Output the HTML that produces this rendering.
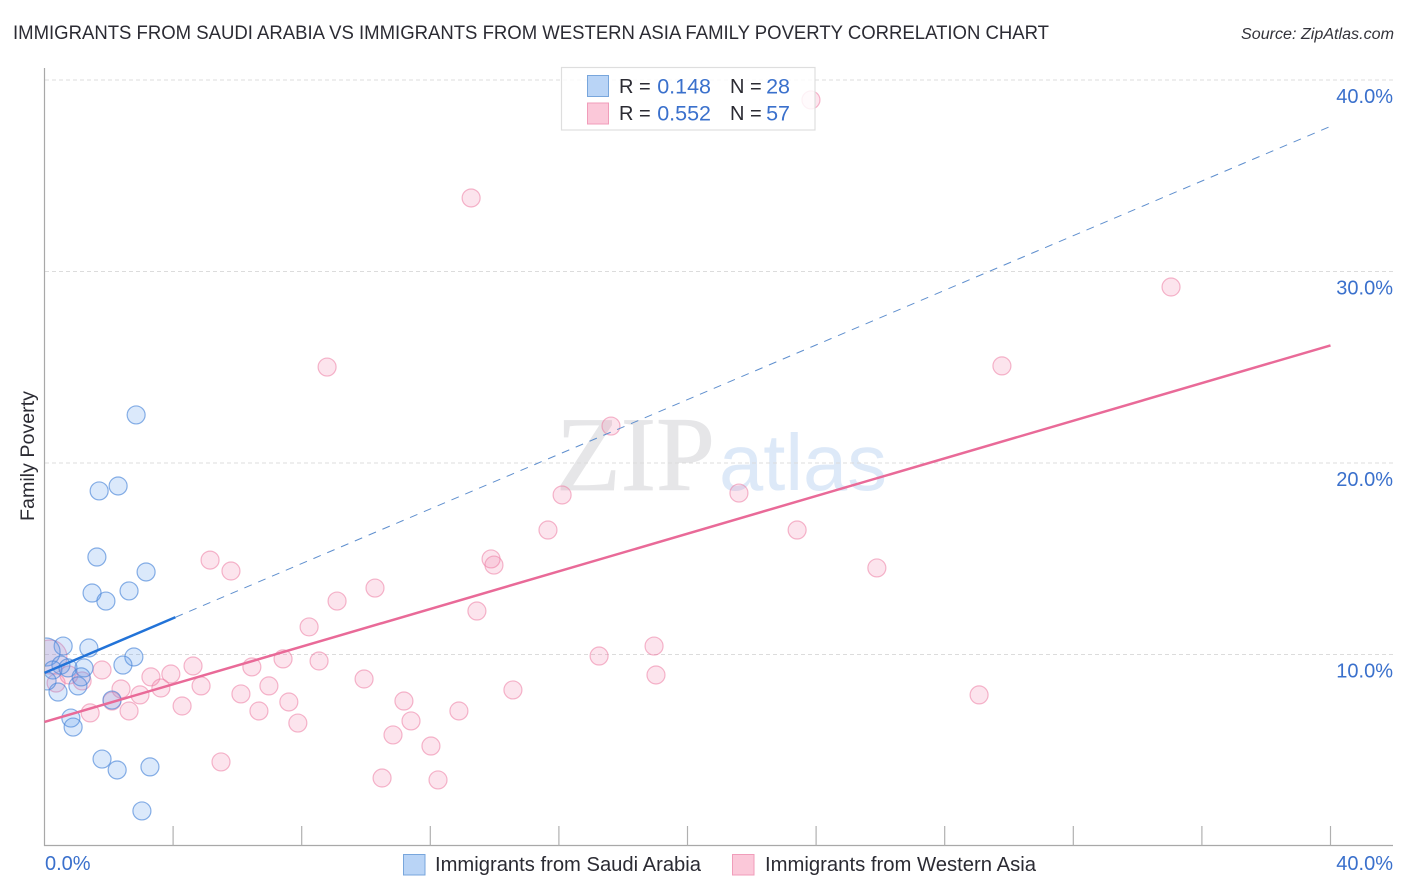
<!DOCTYPE html>
<html lang="en">
<head>
<meta charset="utf-8">
<title>Immigrants from Saudi Arabia vs Immigrants from Western Asia Family Poverty Correlation Chart</title>
<style>
html,body{margin:0;padding:0;background:#fff;width:1406px;height:892px;overflow:hidden}
svg{display:block}
text{font-family:"Liberation Sans",sans-serif}
</style>
</head>
<body>
<svg id="chart" xmlns="http://www.w3.org/2000/svg" width="1406" height="892" viewBox="0 0 1406 892">
<defs><clipPath id="plot-clip"><rect x="45" y="68" width="1348" height="777"/></clipPath></defs>
<text x="13" y="39" font-size="19.5" fill="#2b2b33" textLength="1036" lengthAdjust="spacingAndGlyphs">IMMIGRANTS FROM SAUDI ARABIA VS IMMIGRANTS FROM WESTERN ASIA FAMILY POVERTY CORRELATION CHART</text>
<text x="1241" y="39" font-size="15.5" font-style="italic" fill="#33333b" textLength="153" lengthAdjust="spacingAndGlyphs">Source: ZipAtlas.com</text>
<text x="556" y="490" font-size="106" fill="#e6e6e8" stroke="#e6e6e8" stroke-width="0.8" style="font-family:'Liberation Serif',serif" textLength="159" lengthAdjust="spacingAndGlyphs">ZIP</text>
<text x="719" y="490" font-size="80" fill="#dde9f8" textLength="168" lengthAdjust="spacingAndGlyphs">atlas</text>
<g id="grid"></g>
<g id="marks" clip-path="url(#plot-clip)"></g>
<rect x="0" y="60" width="44.5" height="790" fill="#fff"/>
<g id="axes"></g>
<g id="trends"></g>
<g id="labels"></g>
<text transform="translate(34,456) rotate(-90)" text-anchor="middle" font-size="19" fill="#2b2b33" textLength="130" lengthAdjust="spacingAndGlyphs">Family Poverty</text>
<g>
<rect x="561.5" y="67.5" width="253.5" height="62.5" fill="#fff" fill-opacity="0.82" stroke="#dedede" stroke-width="1.2"/>
<rect x="587.5" y="75.5" width="21" height="21" fill="#b9d4f6" stroke="#78a6dc"/>
<rect x="587.5" y="103" width="21" height="21" fill="#fbc8d9" stroke="#f09dba"/>
<text x="619" y="93" font-size="20" fill="#2b2b33">R =</text>
<text x="711" y="93.5" font-size="21.5" fill="#3a70cc" text-anchor="end">0.148</text>
<text x="730" y="93" font-size="20" fill="#2b2b33">N =</text>
<text x="790" y="93.5" font-size="21.5" fill="#3a70cc" text-anchor="end">28</text>
<text x="619" y="120" font-size="20" fill="#2b2b33">R =</text>
<text x="711" y="120.5" font-size="21.5" fill="#3a70cc" text-anchor="end">0.552</text>
<text x="730" y="120" font-size="20" fill="#2b2b33">N =</text>
<text x="790" y="120.5" font-size="21.5" fill="#3a70cc" text-anchor="end">57</text>
</g>
<g>
<rect x="403.5" y="854.5" width="21.5" height="20.5" fill="#b9d4f6" stroke="#78a6dc"/>
<text x="435" y="871" font-size="20" fill="#2b2b33" textLength="266" lengthAdjust="spacingAndGlyphs">Immigrants from Saudi Arabia</text>
<rect x="732.5" y="854.5" width="21.5" height="20.5" fill="#fbc8d9" stroke="#f09dba"/>
<text x="765" y="871" font-size="20" fill="#2b2b33" textLength="271" lengthAdjust="spacingAndGlyphs">Immigrants from Western Asia</text>
</g>
</svg>
<script>
const saudiX = [2.85,2.29,1.70,1.63,3.16,2.63,1.48,1.91,0.58,1.38,0.05,2.78,2.44,1.23,0.51,0.26,0.73,1.14,1.04,0.42,0.82,0.89,1.79,2.26,3.28,3.03,2.10,0.08];
const saudiY = [22.51,18.80,18.54,15.09,14.31,13.32,13.21,12.79,10.44,10.34,10.13,9.87,9.45,9.30,9.45,9.19,9.30,8.83,8.36,8.04,6.68,6.21,4.54,3.97,4.13,1.83,7.62,8.62];
const asiaX = [23.84,13.27,35.04,8.79,29.78,17.62,16.10,21.60,15.66,23.41,13.89,13.98,5.15,5.80,25.89,10.28,9.10,13.45,8.23,18.96,17.25,7.42,8.54,4.62,6.45,3.93,1.79,3.31,19.02,9.94,1.17,4.87,6.98,3.62,14.57,2.38,6.11,2.97,29.07,7.60,11.18,2.10,4.28,2.63,1.42,6.67,12.89,11.40,7.88,10.84,12.02,5.49,10.50,12.24,0.17,0.76,0.36];
const asiaY = [38.96,33.84,29.19,25.01,25.07,21.93,18.33,18.43,16.50,16.50,14.99,14.67,14.93,14.36,14.52,13.47,12.79,12.27,11.44,10.44,9.92,9.77,9.66,9.40,9.35,8.98,9.19,8.83,8.93,8.72,8.62,8.36,8.36,8.25,8.15,8.20,7.94,7.89,7.89,7.52,7.57,7.57,7.31,7.05,6.95,7.05,7.05,6.53,6.42,5.80,5.22,4.39,3.55,3.45,9.87,8.93,8.51];
const saudiLargeIndex = 10;
const asiaLargeIndex = 54;
const saudiTrendY = [9.04,37.58];
const saudiSolidEndX = 4.07;
const asiaTrendY = [6.48,26.14];
const trendX = [0,40];
const yTicks = [10,20,30,40];
const yTickLabels = ['10.0%','20.0%','30.0%','40.0%'];
const xTicks = [4,8,12,16,20,24,28,32,36,40];
const xEndLabels = ['0.0%','40.0%'];

const NS = 'http://www.w3.org/2000/svg';
function sx(v){ return 44.5 + v * 32.15; }
function sy(v){ return 846 - v * 19.15; }
function make(tag, parent, attrs){
  const el = document.createElementNS(NS, tag);
  for (const k in attrs) el.setAttribute(k, attrs[k]);
  document.getElementById(parent).appendChild(el);
  return el;
}
function lerp(a, b, t){ return a + (b - a) * t; }

yTicks.forEach(function(t, i){
  const g = make('line', 'grid', {x1:45, x2:1393, y1:sy(t), y2:sy(t), stroke:'#dcdcdc', 'stroke-width':1, 'stroke-dasharray':'4 3'});
  
  
  const l = make('text', 'labels', {x:1393, y:sy(t) + 23, 'text-anchor':'end', 'font-size':20, fill:'#3a70cc'});
  l.textContent = yTickLabels[i];
  
  
});

const yAxis = make('line', 'axes', {x1:44.5, x2:44.5, y1:68, y2:846, stroke:'#a8a8a8', 'stroke-width':1.2});


const xAxis = make('line', 'axes', {x1:44, x2:1393, y1:845.5, y2:845.5, stroke:'#a8a8a8', 'stroke-width':1.2});


xTicks.forEach(function(t){
  const k = make('line', 'axes', {x1:sx(t), x2:sx(t), y1:826, y2:845.5, stroke:'#b0b0b0', 'stroke-width':1.2});
  
  
});
const x0 = make('text', 'labels', {x:45, y:870, 'font-size':20, fill:'#3a70cc'});
x0.textContent = xEndLabels[0];


const x1 = make('text', 'labels', {x:1393, y:870, 'text-anchor':'end', 'font-size':20, fill:'#3a70cc'});
x1.textContent = xEndLabels[1];



asiaX.forEach(function(v, i){
  const c = make('circle', 'marks', {cx:sx(v), cy:sy(asiaY[i]), r: i === asiaLargeIndex ? 17 : 9, fill:'#f27aa5', 'fill-opacity':0.2, stroke:'#ec7ba3', 'stroke-opacity':0.55, 'stroke-width':1.2});
  
  
});
saudiX.forEach(function(v, i){
  const c = make('circle', 'marks', {cx:sx(v), cy:sy(saudiY[i]), r: i === saudiLargeIndex ? 14 : 9, fill:'#5b9bec', 'fill-opacity':0.22, stroke:'#4a86d8', 'stroke-opacity':0.65, 'stroke-width':1.2});
  
  
});

const sT = saudiSolidEndX / (trendX[1] - trendX[0]);
const sMid = lerp(saudiTrendY[0], saudiTrendY[1], sT);
const dashLine = make('line', 'trends', {x1:sx(saudiSolidEndX), y1:sy(sMid), x2:sx(trendX[1]), y2:sy(saudiTrendY[1]), stroke:'#5f8fce', 'stroke-width':1, 'stroke-dasharray':'8 7'});


const solidLine = make('line', 'trends', {x1:sx(trendX[0]), y1:sy(saudiTrendY[0]), x2:sx(saudiSolidEndX), y2:sy(sMid), stroke:'#2273d8', 'stroke-width':2.5});


const asiaLine = make('line', 'trends', {x1:sx(trendX[0]), y1:sy(asiaTrendY[0]), x2:sx(trendX[1]), y2:sy(asiaTrendY[1]), stroke:'#e96a98', 'stroke-width':2.5});


</script>
</body>
</html>
